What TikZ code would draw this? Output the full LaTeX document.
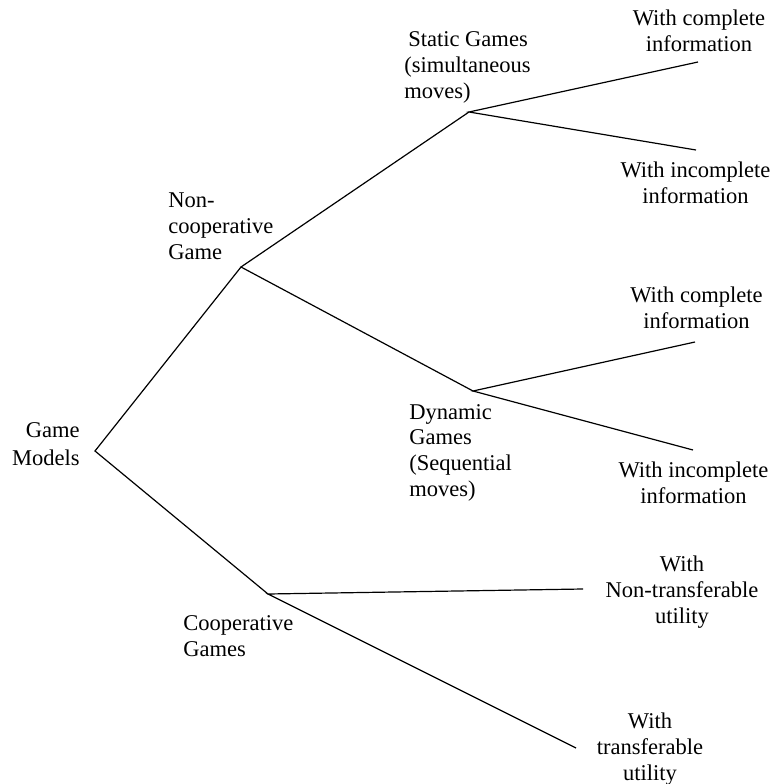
\documentclass[tikz,border=0pt]{standalone}
\usepackage{fontspec}
\setmainfont{Liberation Serif}
\begin{document}
\begin{tikzpicture}[x=0.75pt,y=-0.75pt,
  branch/.style={line width=0.9pt, line join=miter},
  lbl/.style={inner sep=0pt, font=\fontsize{16.9}{19.4}\selectfont},
  lblL/.style={lbl, align=left, anchor=base west},
  lblC/.style={lbl, align=center, anchor=base},
  lblR/.style={lbl, align=right, anchor=base east}]
\useasboundingbox (0,0) rectangle (772,784);

% branching points of the tree
\coordinate (root) at (95,451);
\coordinate (nc)   at (241,267);
\coordinate (st)   at (469,112);
\coordinate (st1)  at (698,62);
\coordinate (st2)  at (696,150);
\coordinate (dy)   at (473,391);
\coordinate (dy1)  at (695,342);
\coordinate (dy2)  at (693,450);
\coordinate (co)   at (268,594);
\coordinate (co1)  at (583,589);
\coordinate (co2)  at (576,748);

% branches
\draw[branch] (nc) -- (root) -- (co);
\draw[branch] (st) -- (nc) -- (dy);
\draw[branch] (st1) -- (st) -- (st2);
\draw[branch] (dy1) -- (dy) -- (dy2);
\draw[branch] (co1) -- (co) -- (co2);

% labels (anchored on the baseline of their last line)
\node[lblR, font=\fontsize{16.9}{20.8}\selectfont] (lroot) at (80,465) {Game\\Models};
\node[lblL] (lnc) at (168,259.3) {Non-\\cooperative\\Game};
\node[lblL] (lst) at (404,98.3) {\hspace{3pt}Static Games\\(simultaneous\\moves)};
\node[lblC] (lst1) at (699,51.7) {With complete\\information};
\node[lblC] (lst2) at (695.5,203.3) {With incomplete\\information};
\node[lblL] (ldy) at (409,496.7) {Dynamic\\Games\\(Sequential\\moves)};
\node[lblC] (ldy1) at (696.5,328.3) {With complete\\information};
\node[lblC] (ldy2) at (693.5,503.3) {With incomplete\\information};
\node[lblL] (lco) at (183,656.7) {Cooperative\\Games};
\node[lblC] (lco1) at (682,623.3) {With\\Non-transferable\\utility};
\node[lblC] (lco2) at (650,780) {With\\transferable\\utility};
\end{tikzpicture}
\end{document}
